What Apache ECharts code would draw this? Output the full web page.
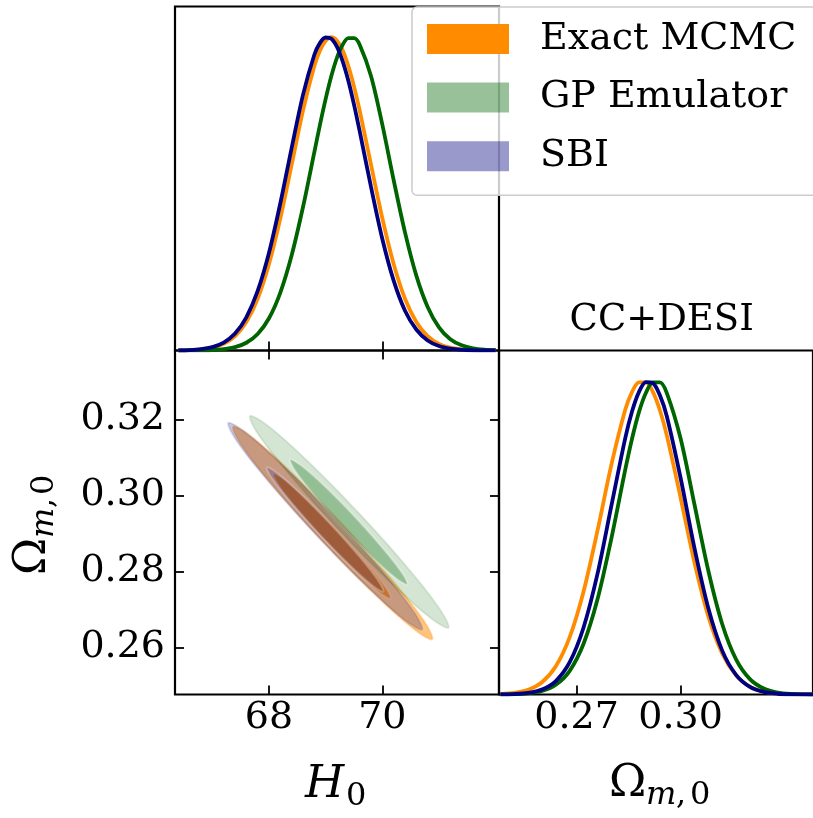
<!DOCTYPE html>
<html><head><meta charset="utf-8">
<script src="https://cdn.jsdelivr.net/npm/echarts@6/dist/echarts.min.js"></script>
<style>html,body{margin:0;padding:0;background:#fff}#c{width:813px;height:818px}</style>
</head><body><div id="c"></div>
<script>
// ---------- data ----------
const sampleNames = ['Exact MCMC', 'GP Emulator', 'SBI'];

// 1D marginal of H0 (normalised to peak = 1)
const h0X     = [66.4,66.6,66.8,67.0,67.2,67.4,67.6,67.8,68.0,68.2,68.4,68.6,68.8,68.9,69.0,69.1,69.2,69.3,69.4,69.5,69.6,69.8,70.0,70.2,70.4,70.6,70.8,71.0,71.2,71.4,71.6,71.8,72.0];
const h0Exact = [0.0004,0.0013,0.0036,0.0091,0.0213,0.046,0.091,0.165,0.276,0.422,0.593,0.766,0.908,0.958,0.989,1.0,0.989,0.958,0.908,0.843,0.766,0.593,0.422,0.276,0.165,0.091,0.046,0.0213,0.0091,0.0036,0.0013,0.0004,0.0001];
const h0GP    = [0.0000,0.0001,0.0005,0.0015,0.0042,0.0106,0.0247,0.0527,0.103,0.185,0.304,0.458,0.633,0.721,0.803,0.876,0.935,0.976,0.997,0.997,0.976,0.876,0.721,0.544,0.377,0.239,0.139,0.074,0.036,0.0164,0.0067,0.0026,0.0009];
const h0SBI   = [0.0005,0.0015,0.0043,0.011,0.0253,0.054,0.106,0.190,0.312,0.470,0.647,0.816,0.944,0.982,0.999,0.995,0.969,0.923,0.861,0.785,0.700,0.522,0.356,0.223,0.127,0.067,0.032,0.0141,0.0057,0.0021,0.0007,0.0002,0.0001];

// 1D marginal of Omega_m0
const omX     = [0.248,0.252,0.256,0.260,0.264,0.268,0.272,0.276,0.280,0.284,0.286,0.288,0.290,0.292,0.294,0.296,0.300,0.304,0.308,0.312,0.316,0.320,0.324,0.328,0.332,0.336,0.340];
const omExact = [0.0015,0.0051,0.0151,0.039,0.090,0.183,0.329,0.522,0.732,0.908,0.966,0.996,0.996,0.966,0.908,0.828,0.628,0.421,0.249,0.131,0.061,0.0248,0.0090,0.0029,0.0008,0.0002,0.0001];
const omGP    = [0.0002,0.0010,0.0035,0.0111,0.031,0.0756,0.162,0.303,0.497,0.716,0.817,0.902,0.963,0.996,0.996,0.963,0.817,0.6065,0.395,0.225,0.112,0.049,0.0189,0.0063,0.0019,0.0005,0.0001];
const omSBI   = [0.0003,0.0014,0.0051,0.0159,0.043,0.103,0.214,0.384,0.601,0.817,0.904,0.966,0.997,0.994,0.956,0.889,0.691,0.467,0.275,0.140,0.0625,0.0241,0.0081,0.0024,0.0006,0.0001,0.0000];

// 2D contours [H0, Omega_m0] (68% inner, 95% outer)
const exactOuter = [[70.883,0.26214],[70.731,0.26706],[70.149,0.27816],[69.292,0.29247],[68.390,0.30615],[67.685,0.31554],[67.365,0.31812],[67.517,0.31320],[68.099,0.30210],[68.956,0.28779],[69.858,0.27411],[70.563,0.26472]];
const exactInner = [[70.144,0.27289],[70.057,0.27582],[69.716,0.28236],[69.214,0.29078],[68.683,0.29881],[68.267,0.30430],[68.076,0.30579],[68.163,0.30287],[68.504,0.29632],[69.007,0.28790],[69.537,0.27987],[69.953,0.27438]];
const gpOuter    = [[71.169,0.26516],[71.018,0.27006],[70.438,0.28113],[69.584,0.29539],[68.685,0.30902],[67.982,0.31837],[67.663,0.32094],[67.814,0.31604],[68.394,0.30497],[69.248,0.29071],[70.147,0.27708],[70.850,0.26773]];
const gpInner    = [[70.441,0.27658],[70.354,0.27951],[70.013,0.28605],[69.511,0.29447],[68.980,0.30250],[68.564,0.30799],[68.373,0.30948],[68.460,0.30656],[68.801,0.30001],[69.304,0.29159],[69.834,0.28356],[70.250,0.27807]];
const sbiOuter   = [[70.703,0.26468],[70.554,0.26945],[69.987,0.28025],[69.153,0.29417],[68.275,0.30749],[67.590,0.31663],[67.279,0.31916],[67.428,0.31439],[67.995,0.30359],[68.829,0.28967],[69.707,0.27635],[70.392,0.26721]];
const sbiInner   = [[70.018,0.27470],[69.929,0.27756],[69.589,0.28404],[69.088,0.29240],[68.561,0.30039],[68.150,0.30588],[67.964,0.30740],[68.053,0.30454],[68.393,0.29806],[68.894,0.28970],[69.421,0.28171],[69.832,0.27622]];

// ticks / ranges
const h0Ticks  = [68, 70];
const omTicksX = [0.27, 0.30];
const omTicksY = [0.26, 0.28, 0.30, 0.32];
const h0Range  = [66.341, 72.059];
const omRange  = [0.2476, 0.3382];
const peakMax  = 1.098;

// ---------- styling ----------
const FONT = 'DejaVu Serif';
const colExact = '#ff8c00', colGP = '#006400', colSBI = '#000080';

const chart = echarts.init(document.getElementById('c'), null, {renderer: 'canvas'});

function tick(values) {
  return {show: true, inside: true, length: 9, customValues: values, lineStyle: {color: '#000', width: 1.8}};
}
function line1D(name, xs, ys, color, xi, yi, z) {
  return {type: 'line', name, xAxisIndex: xi, yAxisIndex: yi,
    data: xs.map((x, i) => [x, ys[i]]), smooth: 0.3, symbol: 'none', showSymbol: false,
    lineStyle: {color, width: 3.8}, itemStyle: {color}, z, silent: true, clip: true};
}
function contour(name, pts, fill, stroke, z) {
  return {type: 'custom', name, coordinateSystem: 'cartesian2d', xAxisIndex: 1, yAxisIndex: 1,
    data: [pts[0]], clip: true, silent: true, z,
    renderItem: (params, api) => ({
      type: 'polygon',
      shape: {points: pts.map(p => api.coord(p)), smooth: 0.35},
      style: {fill: fill, stroke: stroke, lineWidth: 2}
    })};
}

const gridBox = {show: true, borderColor: '#000', borderWidth: 2.2, backgroundColor: 'transparent', containLabel: false};
const lbl = {fontFamily: FONT, fontSize: 38, color: '#000'};

const option = {
  animation: false,
  backgroundColor: '#fff',
  grid: [
    Object.assign({left: 175, top: 6.5, width: 324, height: 344}, gridBox),
    Object.assign({left: 175, top: 350.5, width: 324, height: 344}, gridBox),
    Object.assign({left: 499, top: 350.5, width: 324, height: 344}, gridBox)
  ],
  xAxis: [
    {gridIndex: 0, type: 'value', min: h0Range[0], max: h0Range[1], axisLine: {show: false}, splitLine: {show: false},
      axisTick: tick(h0Ticks), axisLabel: {show: false}},
    {gridIndex: 1, type: 'value', min: h0Range[0], max: h0Range[1], axisLine: {show: false}, splitLine: {show: false},
      axisTick: tick(h0Ticks), axisLabel: Object.assign({show: true, customValues: h0Ticks, margin: 5, formatter: v => String(Math.round(v))}, lbl)},
    {gridIndex: 1, type: 'value', position: 'top', min: h0Range[0], max: h0Range[1], axisLine: {show: false}, splitLine: {show: false},
      axisTick: tick(h0Ticks), axisLabel: {show: false}},
    {gridIndex: 2, type: 'value', min: omRange[0], max: omRange[1], axisLine: {show: false}, splitLine: {show: false},
      axisTick: tick(omTicksX), axisLabel: Object.assign({show: true, customValues: omTicksX, margin: 5, formatter: v => v.toFixed(2)}, lbl)}
  ],
  yAxis: [
    {gridIndex: 0, type: 'value', min: 0, max: peakMax, axisLine: {show: false}, splitLine: {show: false}, axisTick: {show: false}, axisLabel: {show: false}},
    {gridIndex: 1, type: 'value', min: omRange[0], max: omRange[1], axisLine: {show: false}, splitLine: {show: false},
      axisTick: tick(omTicksY), axisLabel: Object.assign({show: true, customValues: omTicksY, margin: 10, formatter: v => v.toFixed(2)}, lbl)},
    {gridIndex: 1, type: 'value', position: 'right', min: omRange[0], max: omRange[1], axisLine: {show: false}, splitLine: {show: false},
      axisTick: tick(omTicksY), axisLabel: {show: false}},
    {gridIndex: 2, type: 'value', min: 0, max: peakMax, axisLine: {show: false}, splitLine: {show: false}, axisTick: {show: false}, axisLabel: {show: false}}
  ],
  legend: {
    orient: 'vertical', left: 412, top: 7, icon: 'rect', itemWidth: 82, itemHeight: 30, itemGap: 20.6,
    padding: [13, 40, 20, 15], backgroundColor: 'rgba(255,255,255,0.8)', borderColor: '#cccccc', borderWidth: 1.5, borderRadius: 5,
    selectedMode: false,
    textStyle: {fontFamily: FONT, fontSize: 38, color: '#000', lineHeight: 30, padding: [0, 0, 0, 26]},
    data: [
      {name: sampleNames[0], itemStyle: {color: colExact, opacity: 1}},
      {name: sampleNames[1], itemStyle: {color: 'rgba(0,100,0,0.4)', opacity: 1}},
      {name: sampleNames[2], itemStyle: {color: 'rgba(0,0,128,0.4)', opacity: 1}}
    ]
  },
  graphic: [
    {type: 'text', x: 661.7, y: 320, style: {text: 'CC+DESI', fontFamily: FONT, fontSize: 37, fill: '#000', align: 'center', verticalAlign: 'middle'}},
    // x label H_0
    {type: 'text', x: 305, y: 785, style: {text: 'H', fontFamily: FONT, fontStyle: 'italic', fontSize: 45, fill: '#000', align: 'left', verticalAlign: 'middle'}},
    {type: 'text', x: 346, y: 797, style: {text: '0', fontFamily: FONT, fontSize: 32, fill: '#000', align: 'left', verticalAlign: 'middle'}},
    // x label Omega_m,0
    {type: 'text', x: 609, y: 784, style: {text: 'Ω', fontFamily: FONT, fontSize: 45, fill: '#000', align: 'left', verticalAlign: 'middle'}},
    {type: 'text', x: 646, y: 796, style: {text: 'm', fontFamily: FONT, fontStyle: 'italic', fontSize: 32, fill: '#000', align: 'left', verticalAlign: 'middle'}},
    {type: 'text', x: 676, y: 796, style: {text: ',', fontFamily: FONT, fontSize: 32, fill: '#000', align: 'left', verticalAlign: 'middle'}},
    {type: 'text', x: 690, y: 796, style: {text: '0', fontFamily: FONT, fontSize: 32, fill: '#000', align: 'left', verticalAlign: 'middle'}},
    // y label Omega_m,0 (rotated)
    {type: 'text', x: 33, y: 575, rotation: Math.PI / 2, style: {text: 'Ω', fontFamily: FONT, fontSize: 45, fill: '#000', align: 'left', verticalAlign: 'middle'}},
    {type: 'text', x: 45, y: 538, rotation: Math.PI / 2, style: {text: 'm', fontFamily: FONT, fontStyle: 'italic', fontSize: 32, fill: '#000', align: 'left', verticalAlign: 'middle'}},
    {type: 'text', x: 45, y: 508, rotation: Math.PI / 2, style: {text: ',', fontFamily: FONT, fontSize: 32, fill: '#000', align: 'left', verticalAlign: 'middle'}},
    {type: 'text', x: 45, y: 495, rotation: Math.PI / 2, style: {text: '0', fontFamily: FONT, fontSize: 32, fill: '#000', align: 'left', verticalAlign: 'middle'}}
  ],
  series: [
    line1D(sampleNames[0], h0X, h0Exact, colExact, 0, 0, 3),
    line1D(sampleNames[1], h0X, h0GP, colGP, 0, 0, 4),
    line1D(sampleNames[2], h0X, h0SBI, colSBI, 0, 0, 5),
    line1D(sampleNames[0], omX, omExact, colExact, 3, 3, 3),
    line1D(sampleNames[1], omX, omGP, colGP, 3, 3, 4),
    line1D(sampleNames[2], omX, omSBI, colSBI, 3, 3, 5),
    contour(sampleNames[0], exactOuter, 'rgba(255,140,0,0.50)', 'rgba(255,140,0,0.25)', 2),
    contour(sampleNames[0], exactInner, 'rgba(255,140,0,0.85)', 'rgba(255,255,255,0.25)', 2),
    contour(sampleNames[1], gpOuter, 'rgba(0,100,0,0.17)', 'rgba(0,100,0,0.10)', 2),
    contour(sampleNames[1], gpInner, 'rgba(0,100,0,0.30)', 'rgba(255,255,255,0.35)', 2),
    contour(sampleNames[2], sbiOuter, 'rgba(0,0,128,0.22)', 'rgba(0,0,128,0.10)', 2),
    contour(sampleNames[2], sbiInner, 'rgba(0,0,128,0.20)', 'rgba(255,255,255,0.25)', 2)
  ]
};
chart.setOption(option);
</script>
</body></html>
